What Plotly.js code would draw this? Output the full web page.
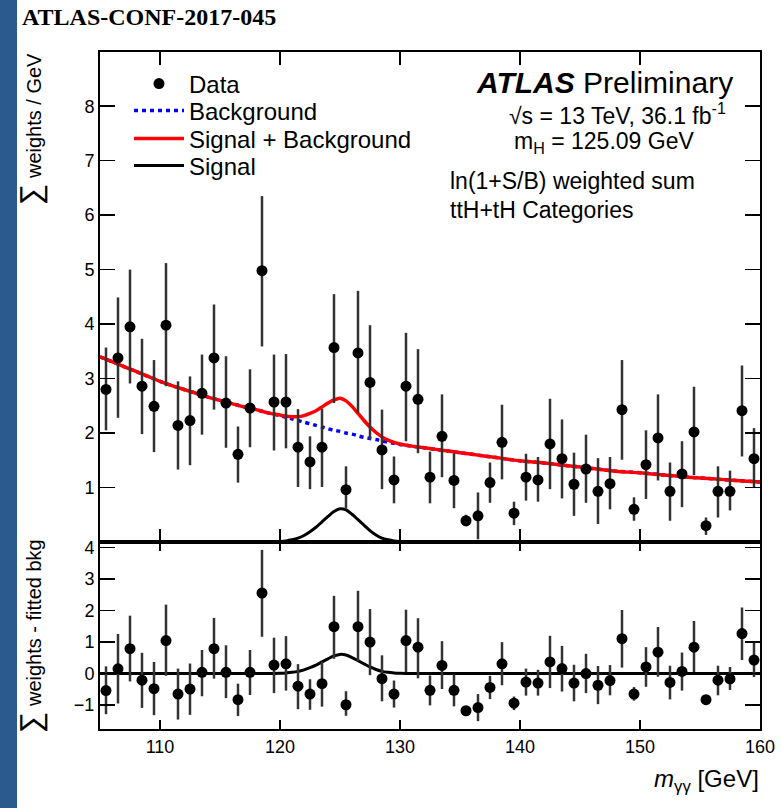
<!DOCTYPE html>
<html>
<head>
<meta charset="utf-8">
<script src="https://cdn.plot.ly/plotly-3.0.1.min.js"></script>
<style>
  html, body { margin: 0; padding: 0; background: #ffffff; }
  #chart { position: absolute; left: 0; top: 0; width: 783px; height: 808px; z-index: 1; }
  #strip { position: absolute; left: 0; top: 0; width: 17px; height: 808px; background: #2b5b8e; z-index: 5; }
</style>
</head>
<body>
<div id="chart"></div>
<div id="strip"></div>
<script>
// ---- data ----
const massCenters = [105.5,106.5,107.5,108.5,109.5,110.5,111.5,112.5,113.5,114.5,115.5,116.5,117.5,118.5,119.5,120.5,121.5,122.5,123.5,124.5,125.5,126.5,127.5,128.5,129.5,130.5,131.5,132.5,133.5,134.5,135.5,136.5,137.5,138.5,139.5,140.5,141.5,142.5,143.5,144.5,145.5,146.5,147.5,148.5,149.5,150.5,151.5,152.5,153.5,154.5,155.5,156.5,157.5,158.5,159.5];
const dataValues = [2.80,3.38,3.95,2.86,2.49,3.98,2.14,2.23,2.73,3.38,2.55,1.61,2.46,4.98,2.57,2.57,1.74,1.47,1.74,3.57,0.96,3.47,2.93,1.69,1.14,2.86,2.62,1.19,1.94,1.13,0.39,0.48,1.09,1.83,0.53,1.19,1.14,1.80,1.53,1.06,1.34,0.93,1.07,2.43,0.60,1.42,1.91,0.93,1.25,2.02,0.30,0.93,0.93,2.41,1.53];
const errUp = [0.77,1.11,1.05,0.87,0.85,1.14,0.81,0.81,0.71,0.98,0.86,0.51,0.71,1.37,0.87,0.88,0.70,0.47,0.70,0.98,0.43,1.14,1.05,0.74,0.43,0.98,0.92,0.47,0.77,0.50,0.11,0.43,0.37,0.69,0.21,0.43,0.42,0.83,0.72,0.58,0.63,0.61,0.49,0.91,0.22,0.63,0.80,0.53,0.60,0.83,0.15,0.46,0.38,0.83,0.56];
const errDown = [0.75,1.10,1.04,0.88,0.84,1.12,0.81,0.82,0.76,0.95,0.82,0.52,0.72,1.39,0.89,0.85,0.73,0.50,0.73,1.02,0.35,1.10,1.05,0.72,0.43,1.01,0.99,0.48,0.75,0.51,0.10,0.43,0.37,0.68,0.22,0.43,0.40,0.83,0.73,0.58,0.62,0.60,0.47,0.92,0.21,0.63,0.78,0.54,0.61,0.79,0.17,0.48,0.35,0.84,0.54];
const residualValues = [-0.54,0.15,0.79,-0.21,-0.48,1.05,-0.65,-0.49,0.04,0.79,0.04,-0.83,0.04,2.56,0.27,0.31,-0.40,-0.65,-0.32,1.49,-0.99,1.49,1.00,-0.16,-0.65,1.05,0.84,-0.53,0.26,-0.53,-1.18,-1.08,-0.44,0.31,-0.94,-0.27,-0.30,0.37,0.16,-0.30,0.00,-0.37,-0.22,1.11,-0.65,0.21,0.68,-0.28,0.07,0.84,-0.83,-0.21,-0.17,1.27,0.43];

const curveMass = [105,106,107,108,109,110,111,112,113,114,115,116,117,118,119,120,120.5,121,121.5,122,122.5,123,123.5,124,124.5,125,125.5,126,126.5,127,127.5,128,128.5,129,129.5,130,131,132,133,134,135,136,137,138,139,140,142,144,146,148,150,152,154,156,158,160];
const bkgCurve = [3.40,3.31,3.22,3.13,3.04,2.95,2.87,2.80,2.73,2.66,2.60,2.54,2.48,2.43,2.37,2.32,2.29,2.26,2.23,2.20,2.17,2.14,2.11,2.08,2.05,2.03,2.00,1.98,1.95,1.92,1.90,1.88,1.86,1.83,1.81,1.79,1.76,1.73,1.70,1.67,1.64,1.61,1.58,1.55,1.52,1.49,1.45,1.40,1.35,1.30,1.27,1.23,1.19,1.16,1.13,1.10];
const sbCurve = [3.40,3.31,3.22,3.13,3.04,2.95,2.87,2.80,2.73,2.66,2.60,2.54,2.48,2.43,2.37,2.33,2.31,2.30,2.30,2.32,2.36,2.41,2.48,2.55,2.61,2.64,2.59,2.49,2.36,2.23,2.11,2.01,1.93,1.87,1.83,1.80,1.76,1.73,1.70,1.67,1.64,1.61,1.58,1.55,1.52,1.49,1.45,1.40,1.35,1.30,1.27,1.23,1.19,1.16,1.13,1.10];
const sigCurve = [0,0,0,0,0,0,0,0,0,0,0,0,0,0,0,0.01,0.02,0.04,0.07,0.12,0.19,0.27,0.37,0.47,0.56,0.61,0.59,0.51,0.41,0.31,0.21,0.13,0.07,0.04,0.02,0.01,0,0,0,0,0,0,0,0,0,0,0,0,0,0,0,0,0,0,0,0];

const seriesNames = ['Data', 'Background', 'Signal + Background', 'Signal'];

// ---- geometry helpers (paper coords from pixel) ----
const W = 783, H = 808, ML = 100, MR = 23, MT = 52, MB = 79;
const PW = W - ML - MR, PH = H - MT - MB;
const px = x => (x - ML) / PW;
const py = y => (H - MB - y) / PH;
const split = py(542);

const FONT = 'Liberation Sans, Arial, Helvetica, sans-serif';
const errStyle = {type: 'data', symmetric: false, array: errUp, arrayminus: errDown, color: '#333333', thickness: 2.5, width: 0};

const traces = [
  {x: curveMass, y: bkgCurve, mode: 'lines', name: seriesNames[1], legend: 'legend2',
   line: {color: '#0000ff', width: 3.5, dash: '4px,4px', shape: 'spline', smoothing: 0.8},
   xaxis: 'x', yaxis: 'y'},
  {x: curveMass, y: sbCurve, mode: 'lines', name: seriesNames[2], legend: 'legend3',
   line: {color: '#ff0000', width: 3.5, shape: 'spline', smoothing: 0.8},
   xaxis: 'x', yaxis: 'y'},
  {x: curveMass, y: sigCurve, mode: 'lines', name: seriesNames[3], legend: 'legend4',
   line: {color: '#000000', width: 3, shape: 'spline', smoothing: 0.8},
   xaxis: 'x', yaxis: 'y'},
  {x: massCenters, y: dataValues, mode: 'markers', name: seriesNames[0], legend: 'legend',
   marker: {color: '#000000', size: 11}, error_y: errStyle,
   xaxis: 'x', yaxis: 'y'},
  {x: curveMass, y: sigCurve, mode: 'lines', showlegend: false,
   line: {color: '#000000', width: 3, shape: 'spline', smoothing: 0.8},
   xaxis: 'x2', yaxis: 'y2'},
  {x: massCenters, y: residualValues, mode: 'markers', showlegend: false,
   marker: {color: '#000000', size: 11}, error_y: errStyle,
   xaxis: 'x2', yaxis: 'y2'}
];

const axisCommon = {
  showline: true, linewidth: 2, linecolor: '#000', mirror: 'ticks',
  showgrid: false, zeroline: false, ticks: 'inside', tickcolor: '#000', tickwidth: 1.5,
  tickfont: {family: FONT, size: 18, color: '#000'}
};
// overlay axes that carry the small (minor) tick marks, ROOT style
const minorAxis = (over, anchor, range, dtick, len) => ({
  overlaying: over, anchor: anchor, range: range, tickmode: 'linear', tick0: 0, dtick: dtick,
  ticks: 'inside', ticklen: len, tickwidth: 1.5, tickcolor: '#000', showticklabels: false,
  showline: true, linewidth: 2, linecolor: '#000', mirror: 'ticks', showgrid: false, zeroline: false, fixedrange: true
});

const legendBase = (yc) => ({x: px(129), y: py(yc), xanchor: 'left', yanchor: 'middle', bgcolor: 'rgba(0,0,0,0)',
  font: {family: FONT, size: 24, color: '#000'}, itemwidth: 50, borderwidth: 0});

const layout = {
  width: W, height: H,
  margin: {l: ML, r: MR, t: MT, b: MB, pad: 0},
  font: {family: FONT, color: '#000'},
  showlegend: true,
  legend: legendBase(84),
  legend2: legendBase(111),
  legend3: legendBase(139),
  legend4: legendBase(166),
  xaxis: Object.assign({}, axisCommon, {domain: [0, 1], anchor: 'y', range: [105, 160],
          tickmode: 'linear', tick0: 0, dtick: 10, showticklabels: false, ticklen: 13}),
  yaxis: Object.assign({}, axisCommon, {domain: [split, 1], anchor: 'x', range: [0, 8.995],
          tickmode: 'linear', tick0: 0, dtick: 1, ticklen: 15, labelalias: {'0': ' '}}),
  xaxis2: Object.assign({}, axisCommon, {domain: [0, 1], anchor: 'y2', matches: 'x', range: [105, 160],
          tickmode: 'linear', tick0: 0, dtick: 10, ticklen: 9}),
  yaxis2: Object.assign({}, axisCommon, {domain: [0, split], anchor: 'x2', range: [-1.76, 4.18],
          tickmode: 'linear', tick0: 0, dtick: 1, ticklen: 15}),
  xaxis3: minorAxis('x', 'y', [105, 160], 2, 7),
  yaxis3: minorAxis('y', 'x', [0, 8.995], 0.2, 8),
  xaxis4: minorAxis('x2', 'y2', [105, 160], 2, 5),
  yaxis4: minorAxis('y2', 'x2', [-1.76, 4.18], 0.2, 8),
  annotations: [
    {text: '<b>ATLAS-CONF-2017-045</b>', xref: 'paper', yref: 'paper', x: px(20), y: py(17),
     xanchor: 'left', yanchor: 'middle', showarrow: false,
     font: {family: 'Liberation Serif, Times New Roman, serif', size: 24, color: '#000'}},
    {text: '<b><i>ATLAS</i></b> Preliminary', xref: 'paper', yref: 'paper', x: px(735), y: py(82),
     xanchor: 'right', yanchor: 'middle', showarrow: false, font: {family: FONT, size: 30, color: '#000'}},
    {text: '\u221As = 13 TeV, 36.1 fb<sup>-1</sup>', xref: 'paper', yref: 'paper', x: px(728), y: py(114),
     xanchor: 'right', yanchor: 'middle', showarrow: false, font: {family: FONT, size: 23, color: '#000'}},
    {text: 'm<sub>H</sub> = 125.09 GeV', xref: 'paper', yref: 'paper', x: px(604), y: py(142),
     xanchor: 'center', yanchor: 'middle', showarrow: false, font: {family: FONT, size: 23, color: '#000'}},
    {text: 'ln(1+S/B) weighted sum', xref: 'paper', yref: 'paper', x: px(448), y: py(181),
     xanchor: 'left', yanchor: 'middle', showarrow: false, font: {family: FONT, size: 23, color: '#000'}},
    {text: 'ttH+tH Categories', xref: 'paper', yref: 'paper', x: px(448), y: py(210),
     xanchor: 'left', yanchor: 'middle', showarrow: false, font: {family: FONT, size: 23, color: '#000'}},
    {text: '<span style="font-size:30px">\u2211</span> weights / GeV', xref: 'paper', yref: 'paper',
     x: px(31), y: py(129), xanchor: 'center', yanchor: 'middle', textangle: -90, showarrow: false,
     font: {family: FONT, size: 20, color: '#000'}},
    {text: '<span style="font-size:30px">\u2211</span> weights - fitted bkg', xref: 'paper', yref: 'paper',
     x: px(31), y: py(636), xanchor: 'center', yanchor: 'middle', textangle: -90, showarrow: false,
     font: {family: FONT, size: 20, color: '#000'}},
    {text: '<i>m</i><sub>\u03B3\u03B3</sub> [GeV]', xref: 'paper', yref: 'paper', x: px(761), y: py(780),
     xanchor: 'right', yanchor: 'middle', showarrow: false, font: {family: FONT, size: 24, color: '#000'}}
  ]
};

Plotly.newPlot('chart', traces, layout, {staticPlot: true});
</script>
</body>
</html>
